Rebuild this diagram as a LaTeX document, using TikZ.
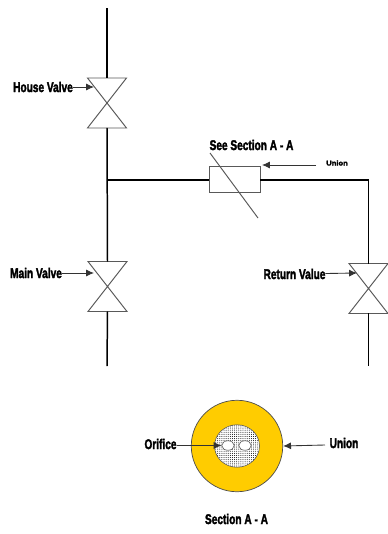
\documentclass[tikz,border=0pt]{standalone}
\usepackage{fontspec}
\setmainfont{Liberation Sans}[BoldFeatures={FakeBold=2.6}]
\usetikzlibrary{patterns,arrows.meta,shapes.geometric}
\pgfdeclarepatternformonly{finedots}{\pgfqpoint{-0.3pt}{-0.3pt}}{\pgfqpoint{0.9pt}{0.9pt}}{\pgfqpoint{1.2pt}{1.2pt}}{
	\pgfpathcircle{\pgfqpoint{0.3pt}{0.3pt}}{0.28pt}
	\pgfusepath{fill}
}
\tikzset{
	valvebox/.style={minimum width=0.78cm, minimum height=1cm, inner sep=0pt, outer sep=0pt},
	pipe/.style={line width=0.85pt, black},
	thinline/.style={line width=0.55pt, black!65},
	callout/.style={-{Latex[length=4.5pt,width=4pt]}, line width=0.5pt, black!80},
	tag/.style={font=\bfseries\fontsize{8}{9}\selectfont, inner sep=0pt, outer sep=0pt, transform shape, xscale=0.72},
	hole/.style={ellipse, draw=black!70, line width=0.3pt, fill=white, minimum width=0.25cm, minimum height=0.19cm, inner sep=0pt}
}
\newcommand{\ValveV}[2]{
	\node[valvebox] (#1) at (#2) {};
	\draw[thinline] (#1.north west) -- (#1.north east) -- (#1.south west) -- (#1.south east) -- cycle;
}
\begin{document}
\begin{tikzpicture}[x=0.02cm, y=-0.02cm]
	\useasboundingbox (0,0) rectangle (388,534);
	
	\ValveV{HV}{107,103}
	\ValveV{MV}{107.5,286.5}
	\ValveV{RV}{368.5,288.5}
	
	\node[draw, thinline, minimum width=1.02cm, minimum height=0.52cm, inner sep=0pt] (U) at (234.5,179) {};
	
	\coordinate (top) at (107,8);
	\coordinate (tee) at (107,180);
	\coordinate (bot) at (107,366);
	\coordinate (corner) at (368.5,180);
	\coordinate (rbot) at (368.5,366);
	
	\draw[pipe] (top) -- (HV.north);
	\draw[pipe] (HV.south) -- (MV.north);
	\draw[pipe] (MV.south) -- (bot);
	\draw[pipe] (tee) -- (U.west |- tee);
	\draw[pipe] (U.east |- corner) -- (corner) -- (RV.north);
	\draw[pipe] (RV.south) -- (rbot);
	
	\coordinate (S1) at (210,153);
	\coordinate (S2) at (258,218);
	\draw[thinline] (S1) -- (S2);
	
	\node[tag] (HVt) at (43,87) {House Valve};
	\node[tag] (MVt) at (36,273) {Main Valve};
	\node[tag] (RVt) at (294.5,274) {Return Value};
	\node[tag] (SAt) at (251.5,145) {See Section A - A};
	\node[tag, font=\bfseries\fontsize{4}{5}\selectfont, xscale=1.5] (Ut) at (337,163) {Union};
	
	\coordinate (HVa) at (94,87);
	\coordinate (MVa) at (94,273);
	\coordinate (RVa) at (357,273);
	\coordinate (Ua) at (262,165);
	\coordinate (Us) at (316,165);
	\draw[callout] (HVt) -- (HVa);
	\draw[callout] (MVt) -- (MVa);
	\draw[callout] (RVt) -- (RVa);
	\draw[callout] (Us) -- (Ua);
	
	% section
	\node[circle, draw=black!70, line width=0.4pt, fill={rgb,255:red,255;green,204;blue,0}, minimum size=1.83cm, inner sep=0pt] (ring) at (237,446) {};
	\node[ellipse, draw=black!70, line width=0.3pt, fill=white, minimum width=0.9cm, minimum height=0.85cm, inner sep=0pt] (core) at (237,446) {};
	\fill[pattern=finedots, pattern color=black] (core.center) ellipse (22 and 21);
	\node[hole] (hole1) at (228,445.5) {};
	\node[hole] (hole2) at (245,445.5) {};
	
	\node[tag] (Ot) at (160.5,444) {Orifice};
	\node[tag] (Ur) at (344,443) {Union};
	\node[tag] (SS) at (236.5,519) {Section A - A};
	
	\coordinate (Ur1) at (325,445);
	\draw[callout] (Ot.east |- hole1) -- (hole1.west);
	\draw[callout] (Ur1) -- (ring.east);
\end{tikzpicture}
\end{document}
